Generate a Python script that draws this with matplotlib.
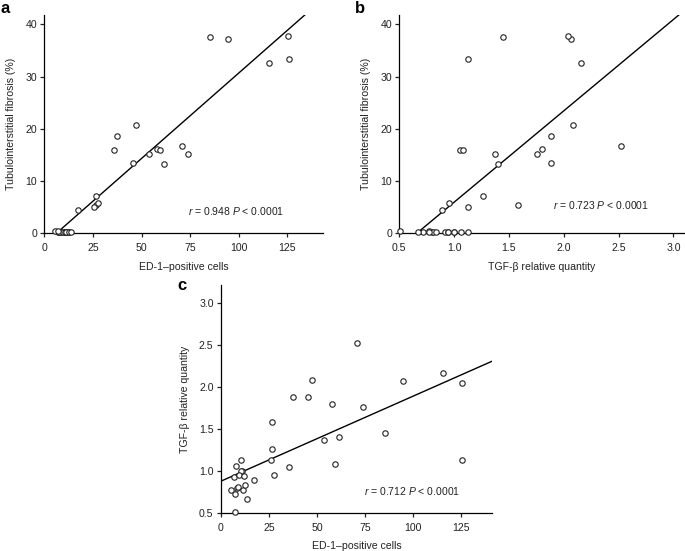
import numpy as np
import matplotlib
matplotlib.use("Agg")
import matplotlib.pyplot as plt

plt.rcParams['font.family'] = ['Liberation Sans', 'DejaVu Sans']
plt.rcParams['mathtext.fontset'] = 'custom'
plt.rcParams['mathtext.rm'] = 'Liberation Sans'
plt.rcParams['mathtext.it'] = 'Liberation Sans:italic'

# One dataset: each animal has ED-1 count, fibrosis %, TGF-beta quantity
ed1 = [85.3, 94.6, 125.3, 115.4, 125.6, 47.2, 37.6, 35.6, 57.7, 59.6, 70.8, 73.8, 53.6, 45.4,
       61.7, 26.8, 26.4, 25.8, 27.4, 17.4,
       7.6, 10.4, 10.8, 10.6, 6.9, 9.5, 12.1, 5.3, 8.2, 8.7, 7.5, 11.3, 12.5, 13.5, 7.1]
fibrosis = [37.6, 37.2, 37.7, 32.6, 33.4, 20.7, 18.6, 16.0, 16.1, 15.9, 16.8, 15.1, 15.2, 13.5,
            13.3, 7.2, 5.5, 5.0, 5.8, 4.5,
            0.3, 0.2, 0.3, 0.2, 0.3, 0.3, 0.2, 0.4, 0.3, 0.3, 0.2, 0.3, 0.2, 0.3, 0.5]
tgf = [1.45, 2.07, 2.04, 2.16, 1.13, 2.08, 1.88, 1.05, 1.80, 1.08, 2.52, 1.76, 1.37, 1.88,
       1.40, 1.26, 1.58, 1.13, 0.95, 0.89,
       1.06, 1.13, 1.00, 1.00, 0.92, 0.945, 0.94, 0.77, 0.80, 0.81, 0.72, 0.77, 0.83, 0.667, 0.51]

ed1_label = 'ED-1\u2013positive cells'
fib_label = 'Tubulointerstitial fibrosis (%)'
tgf_label = 'TGF-\u03b2 relative quantity'

panels = [
    dict(letter='a', x=ed1, y=fibrosis, xlabel=ed1_label, ylabel=fib_label,
         xlim=(0, 143.5), ylim=(0, 41.8), xticks=[0, 25, 50, 75, 100, 125], yticks=[0, 10, 20, 30, 40],
         xfmt='{:g}', yfmt='{:g}', stat='$\\it{r}$ = 0.948 $\\it{P}$ < 0.0001', stat_xy=(74, 4.3),
         rect=[0.0647, 0.5766, 0.4073, 0.3964], letter_xy=(0.0005, 0.985)),
    dict(letter='b', x=tgf, y=fibrosis, xlabel=tgf_label, ylabel=fib_label,
         xlim=(0.5, 3.1), ylim=(0, 41.8), xticks=[0.5, 1.0, 1.5, 2.0, 2.5, 3.0], yticks=[0, 10, 20, 30, 40],
         xfmt='{:.1f}', yfmt='{:g}', stat='$\\it{r}$ = 0.723 $\\it{P}$ < 0.0001', stat_xy=(1.9, 5.4),
         rect=[0.583, 0.5766, 0.416, 0.3964], letter_xy=(0.518, 0.985)),
    dict(letter='c', x=ed1, y=tgf, xlabel=ed1_label, ylabel=tgf_label,
         xlim=(0, 141), ylim=(0.5, 3.21), xticks=[0, 25, 50, 75, 100, 125], yticks=[0.5, 1.0, 1.5, 2.0, 2.5, 3.0],
         xfmt='{:g}', yfmt='{:.1f}', stat='$\\it{r}$ = 0.712 $\\it{P}$ < 0.0001', stat_xy=(74.6, 0.758),
         rect=[0.3226, 0.0695, 0.3952, 0.4131], letter_xy=(0.2585, 0.482)),
]

fig = plt.figure(figsize=(6.85, 5.51), dpi=100)
for p in panels:
    ax = fig.add_axes(p['rect'])
    x = np.array(p['x']); y = np.array(p['y'])
    slope, intercept = np.polyfit(x, y, 1)
    xx = np.array(p['xlim'])
    ax.plot(xx, intercept + slope * xx, color='black', lw=1.0, zorder=2)
    ax.plot(x, y, linestyle='none', marker='o', ms=3.9, mfc='white', mec='#222222', mew=0.8,
            clip_on=False, zorder=3)
    ax.set_xlim(*p['xlim']); ax.set_ylim(*p['ylim'])
    ax.set_xticks(p['xticks']); ax.set_yticks(p['yticks'])
    ax.set_xticklabels([p['xfmt'].format(t) for t in p['xticks']])
    ax.set_yticklabels([p['yfmt'].format(t) for t in p['yticks']])
    for s in ['top', 'right']:
        ax.spines[s].set_visible(False)
    for s in ['left', 'bottom']:
        ax.spines[s].set_linewidth(0.9)
    ax.tick_params(direction='out', length=3, width=0.9, labelsize=7.6, colors='#222222')
    ax.tick_params(axis='x', pad=4.2)
    ax.tick_params(axis='y', pad=2.3)
    ax.set_xlabel(p['xlabel'], fontsize=7.6, labelpad=6, color='#222222')
    ax.set_ylabel(p['ylabel'], fontsize=7.6, labelpad=6.5, color='#222222')
    ax.text(p['stat_xy'][0], p['stat_xy'][1], p['stat'], fontsize=7.5, va='center', ha='left',
            color='#222222')
    fig.text(p['letter_xy'][0], p['letter_xy'][1], p['letter'], fontsize=12, fontweight='bold',
             va='center', ha='left')

fig.savefig('out.png', dpi=100)
